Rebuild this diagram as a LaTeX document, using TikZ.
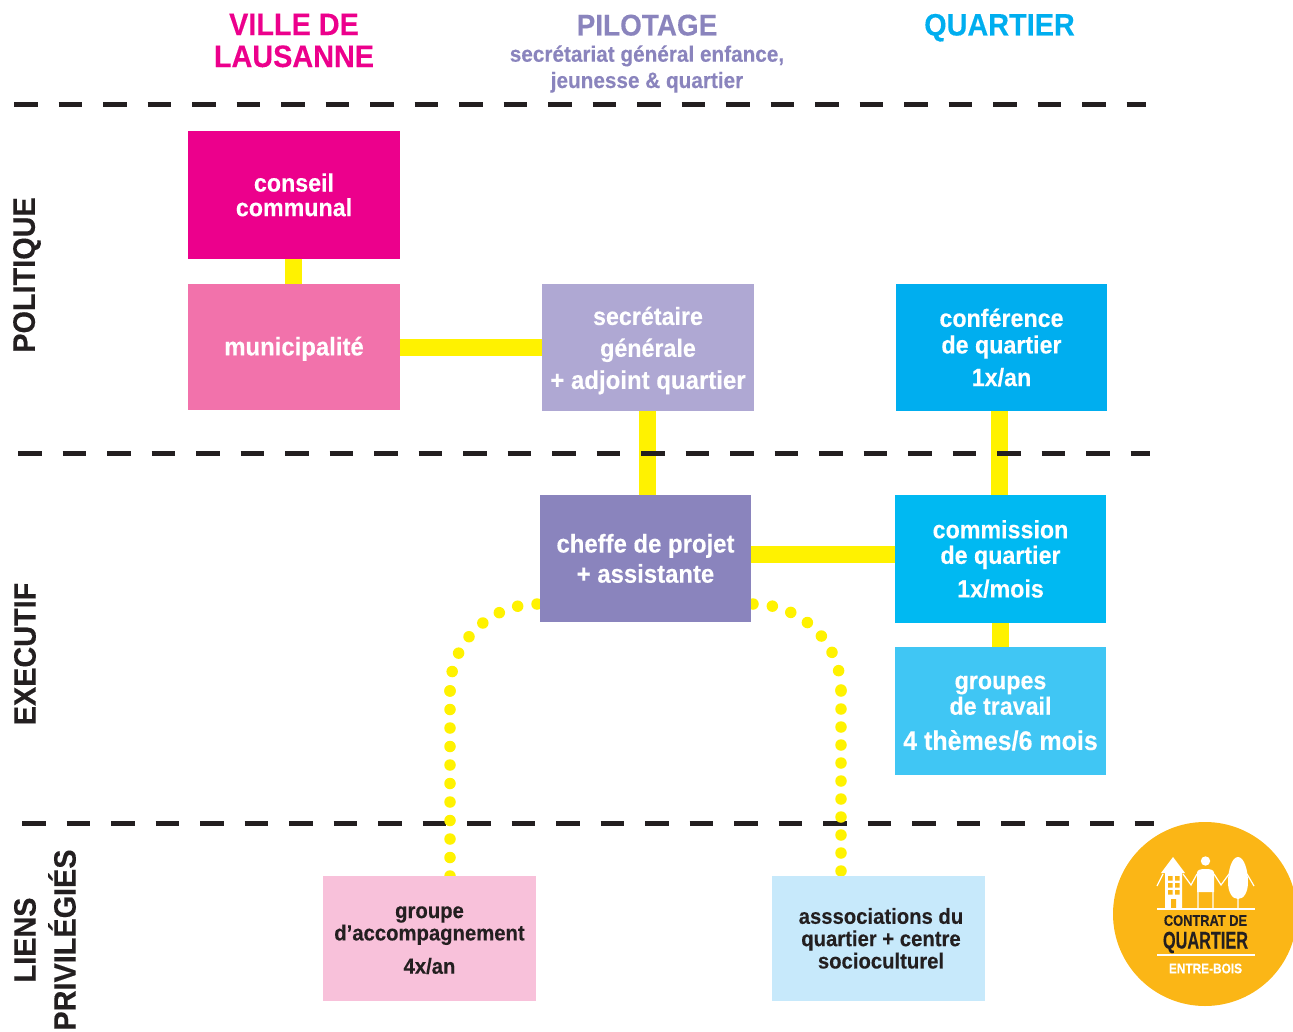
\documentclass[tikz,border=0pt]{standalone}
\usepackage{fontspec}
\usepackage{graphicx}
\setmainfont{Liberation Sans}[BoldFont={Liberation Sans Bold},BoldFeatures={FakeBold=0.25,FakeStretch=0.93}]
\usetikzlibrary{backgrounds}
\definecolor{cMag}{HTML}{EC008C}
\definecolor{cPink}{HTML}{F272AB}
\definecolor{cLil}{HTML}{AFA8D3}
\definecolor{cViol}{HTML}{8A84BD}
\definecolor{cCy}{HTML}{00AEEF}
\definecolor{cCyB}{HTML}{00B9F2}
\definecolor{cCyC}{HTML}{40C6F4}
\definecolor{cPale}{HTML}{F8C1DA}
\definecolor{cSky}{HTML}{C7E9FB}
\definecolor{cYel}{HTML}{FFF200}
\definecolor{cInk}{HTML}{231F20}
\definecolor{cGold}{HTML}{FBB616}
\newcommand{\fsz}[1]{\fontsize{#1pt}{#1pt}\selectfont\bfseries}
\newcommand{\drop}[2]{\raisebox{-#1pt}[0pt][0pt]{\begin{tabular}{@{}c@{}}#2\end{tabular}}}
\tikzset{
  box/.style={minimum width=211pt,minimum height=127pt,inner sep=0pt,outer sep=0pt,align=center,text=white,font=\fsz{25}},
  softbox/.style={box,minimum width=213pt,minimum height=125pt,text=cInk,font=\fsz{21.8}},
  head/.style={inner sep=0pt,align=center,font=\fsz{31}},
  side/.style={inner sep=0pt,align=center,rotate=90,text=cInk,font=\fsz{31}},
  link/.style={draw=cYel,line width=17pt},
  dotarc/.style={draw=cYel,line width=11.5pt,line cap=round,dash pattern=on 0pt off 19.5pt},
  dotleft/.style={draw=cYel,line width=11.5pt,line cap=round,dash pattern=on 0pt off 18.5pt},
  dotright/.style={draw=cYel,line width=11.5pt,line cap=round,dash pattern=on 0pt off 18pt},
  sep/.style={draw=cInk,line width=4.5pt,dash pattern=on 23.7pt off 20.8pt},
  logotxt/.style={inner sep=0pt}
}
\begin{document}
\begin{tikzpicture}[x=1pt,y=-1pt]
\useasboundingbox (0,0) rectangle (1293,1032);
\clip (0,0) rectangle (1293,1032);
% headers
\node[head,text=cMag] (hville) at (294,40.5) {VILLE DE\\[1pt]LAUSANNE};
\node[head,text=cViol,anchor=base,font=\fsz{30}] (hpil) at (647,35.5) {PILOTAGE};
\node[inner sep=0pt,align=center,text=cViol,font=\fsz{22.3}] (hsec) at (647,69) {secrétariat général enfance,\\[4pt]jeunesse \& quartier};
\node[head,text=cCy,anchor=base] (hq) at (999.5,35.5) {QUARTIER};
% side labels
\node[side] (spol) at (27,275) {POLITIQUE};
\node[side] (sexe) at (25,654) {EXECUTIF};
\node[side] (slie) at (45,940) {LIENS\\[9pt]PRIVILÉGIÉS};
% boxes
\node[box,minimum width=212pt,minimum height=128pt,fill=cMag] (cons) at (294,195) {\drop{9.75}{conseil\\[-1pt]communal}};
\node[box,minimum height=126pt,minimum width=212pt,fill=cPink] (muni) at (294,347) {\drop{9}{\fsz{25.7}municipalité}};
\node[box,minimum width=212pt,fill=cLil] (secg) at (648,347.5) {\drop{10.25}{secrétaire\\[6pt]générale\\[6pt]\fsz{25.8}+ adjoint quartier}};
\node[box,fill=cCy] (conf) at (1001.5,347.5) {\drop{9.75}{conférence\\[1pt]de quartier\\[7pt]1x/an}};
\node[box,fill=cViol] (chef) at (645.5,558.5) {\drop{9.75}{\fsz{25.7}cheffe de projet\\[4pt]\fsz{25.7}+ assistante}};
\node[box,minimum height=128pt,fill=cCyB] (comm) at (1000.5,559) {\drop{9.75}{commission\\de quartier\\[8pt]1x/mois}};
\node[box,minimum height=128pt,fill=cCyC] (grou) at (1000.5,711) {\drop{9.75}{groupes\\de travail\\[8pt]\fsz{26.9}4 thèmes/6 mois}};
\node[softbox,fill=cPale] (gacc) at (429.5,938.5) {\drop{8.2}{groupe\\d'accompagnement\\[11pt]4x/an}};
\node[softbox,fill=cSky] (asso) at (878.5,938.5) {\hspace*{5pt}\drop{8.2}{asssociations du\\quartier + centre\\socioculturel}};
% separators and free ends
\coordinate (s1a) at (14,104.5); \coordinate (s1b) at (1146,104.5);
\coordinate (s2a) at (18,453.5); \coordinate (s2b) at (1150,453.5);
\coordinate (s3a) at (22,823.5); \coordinate (s3b) at (1154,823.5);
\coordinate (bendl) at (450,691);
\coordinate (bendr) at (841,691);
\begin{scope}[on background layer]
  \draw[link] ([xshift=-0.5pt]cons.south) -- ([xshift=-0.5pt]muni.north);
  \draw[link] (muni.east) -- (muni.east -| secg.west);
  \draw[link] ([xshift=1.5pt]chef.north |- secg.south) -- ([xshift=1.5pt]chef.north);
  \draw[link] (comm.north -| 999.5,0) -- (conf.south -| 999.5,0);
  \draw[link] ([yshift=4pt]chef.east) -- ([yshift=4pt]chef.east -| comm.west);
  \draw[link] (comm.south) -- (grou.north);
  \draw[sep] (s1a) -- (s1b);
  \draw[sep] (s2a) -- (s2b);
  \draw[sep] (s3a) -- (s3b);
  \draw[dotarc] ([xshift=-3pt,yshift=-45.5pt]chef.west) .. controls (491,604) and (450,641) .. (bendl);
  \draw[dotleft] (bendl) -- ([xshift=20.5pt,yshift=-6pt]gacc.north);
  \draw[dotarc] ([xshift=2pt,yshift=-45.5pt]chef.east) .. controls (800,604) and (841,641) .. (bendr);
  \draw[dotright] (bendr) -- ([xshift=-37.5pt,yshift=-6pt]asso.north);
\end{scope}
% logo
\node[circle,fill=cGold,minimum size=184pt,inner sep=0pt] (logo) at (1205,914) {};
\fill[white] (1161,873) -- (1173,857) -- (1185,873) -- (1182,873) -- (1182,909) -- (1165,909) -- (1165,873) -- cycle;
\fill[cGold] (1168,876) rectangle (1172.5,880.5) (1175,876) rectangle (1179.5,880.5)
  (1168,883) rectangle (1172.5,887.5) (1175,883) rectangle (1179.5,887.5)
  (1168,890) rectangle (1172.5,894.5) (1175,890) rectangle (1179.5,894.5)
  (1171,899) rectangle (1176,909);
\fill[white] (1205.5,861) circle (4.7);
\fill[white] (1197,873) .. controls (1197,870) and (1200,869) .. (1205.5,869) .. controls (1211,869) and (1214,870) .. (1214,873) -- (1214,892) -- (1197,892) -- cycle;
\fill[white] (1238,857) .. controls (1232,857) and (1228,870) .. (1228,882) .. controls (1228,892) and (1232,899) .. (1238,899) .. controls (1244,899) and (1248,892) .. (1248,882) .. controls (1248,870) and (1244,857) .. (1238,857) -- cycle;
\draw[white,line width=1.2pt] (1198,892) -- (1198,909) (1213,892) -- (1213,909) (1238,897) -- (1238,909)
   (1157,886) -- (1163,874) (1183,874) -- (1191,885) -- (1197,874) (1214,874) -- (1221,885) -- (1229,874) (1247,874) -- (1254,886);
\draw[white,line width=1.2pt] (1157,909) -- (1255,909) (1157,955) -- (1255,955);
\node[logotxt,text=cInk] (l1) at (1205.5,920.5) {\scalebox{0.89}[1]{\fontsize{15.5pt}{15.5pt}\selectfont\bfseries CONTRAT DE}};
\node[logotxt,text=cInk,anchor=base] (l2) at (1205.5,948.5) {\scalebox{0.73}[1]{\fontsize{24pt}{24pt}\selectfont\bfseries QUARTIER}};
\node[logotxt,text=white] (l3) at (1205.5,968.5) {\scalebox{0.91}[1]{\fontsize{14pt}{14pt}\selectfont\bfseries ENTRE-BOIS}};
\end{tikzpicture}
\end{document}
